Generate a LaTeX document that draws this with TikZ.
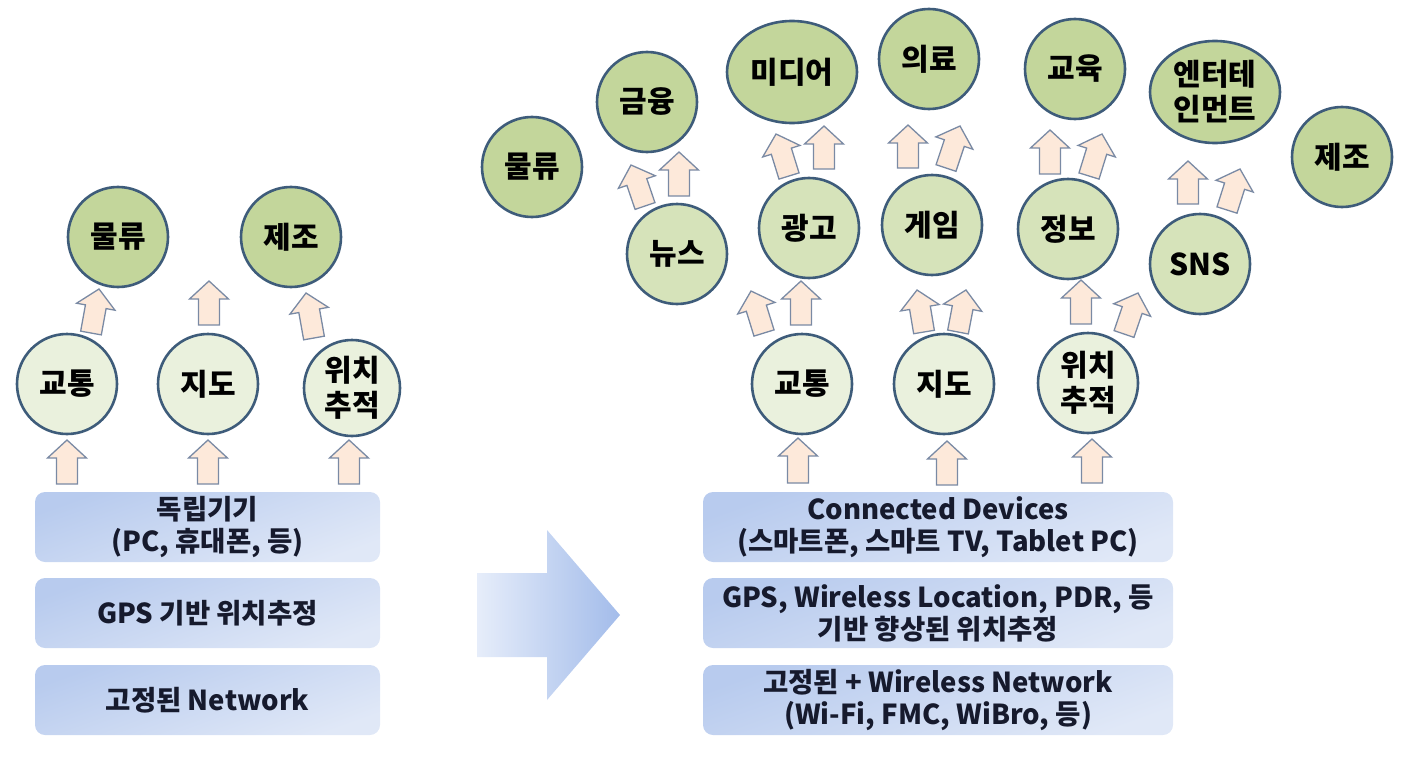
\documentclass[tikz,border=0pt]{standalone}
\usepackage{fontspec}
\setmainfont{Noto Sans CJK KR}
\usetikzlibrary{shapes.geometric,calc}
\definecolor{cline}{RGB}{62,92,122}
\definecolor{topfill}{RGB}{195,214,155}
\definecolor{midfill}{RGB}{214,227,186}
\definecolor{lowfill}{RGB}{234,241,221}
\definecolor{arrfill}{RGB}{253,233,218}
\definecolor{arrline}{RGB}{122,138,164}
\definecolor{boxtop}{RGB}{184,203,238}
\definecolor{boxbot}{RGB}{224,232,247}
\definecolor{bigleft}{RGB}{230,237,250}
\definecolor{bigright}{RGB}{163,188,234}
\definecolor{boxtext}{RGB}{22,26,45}
\tikzset{
  circ/.style={circle,draw=cline,line width=2.6pt,minimum size=100pt,inner sep=0pt,
    align=center,font=\fontsize{30}{35}\selectfont\bfseries},
  ell/.style={ellipse,draw=cline,line width=2.6pt,minimum width=130pt,minimum height=102pt,
    inner sep=0pt,align=center,font=\fontsize{30}{35}\selectfont\bfseries},
  topc/.style={fill=topfill},
  midc/.style={fill=midfill},
  lowc/.style={fill=lowfill},
  layerbox/.style={rectangle,rounded corners=10pt,minimum height=70pt,inner sep=0pt,
    top color=boxtop,bottom color=boxbot,shading angle=20,align=center,text=boxtext,
    font=\fontsize{27.5}{32}\selectfont\bfseries},
  blockarr/.style={draw=arrline,fill=arrfill,line width=1.3pt,line join=miter},
}
\newcommand\barrow[2]{%
  \path[blockarr] let \p1=(#1), \p2=(#2), \n1={atan2(\y2-\y1,\x2-\x1)},
    \n2={veclen(\x2-\x1,\y2-\y1)} in [shift={(\p1)}, rotate=\n1]
    (0pt,-10.5pt) -- (\n2-18pt,-10.5pt) -- (\n2-18pt,-19.5pt) -- (\n2,0pt)
    -- (\n2-18pt,19.5pt) -- (\n2-18pt,10.5pt) -- (0pt,10.5pt) -- cycle;}
\begin{document}
\begin{tikzpicture}[x=1pt,y=-1pt]
\useasboundingbox (0,0) rectangle (1402,757);
% ---------- left side ----------
\node[circ,topc] (lmul) at (118,237) {물류};
\node[circ,topc] (ljej) at (291,237) {제조};
\node[circ,lowc] (lgyo) at (67,384) {교통};
\node[circ,lowc] (ljid) at (208,384) {지도};
\node[circ,lowc,minimum size=96pt] (lwic) at (352,388) {위치\\추적};
\node[layerbox,minimum width=345pt] (lb1) at (207.5,527) {독립기기\\(PC, 휴대폰, 등)};
\node[layerbox,minimum width=345pt] (lb2) at (207.5,613) {GPS 기반 위치추정};
\node[layerbox,minimum width=345pt] (lb3) at (207.5,700) {고정된 Network};
% left arrows
\coordinate (la1s) at (91,333); \coordinate (la1e) at (99,289);
\coordinate (la2s) at (209,325); \coordinate (la2e) at (209,281);
\coordinate (la3s) at (314,338); \coordinate (la3e) at (306,293);
\coordinate (la4s) at (67,484); \coordinate (la4e) at (67,440);
\coordinate (la5s) at (208,484); \coordinate (la5e) at (208,440);
\coordinate (la6s) at (349,484); \coordinate (la6e) at (349,440);
\barrow{la1s}{la1e}\barrow{la2s}{la2e}\barrow{la3s}{la3e}
\barrow{la4s}{la4e}\barrow{la5s}{la5e}\barrow{la6s}{la6e}
% ---------- big arrow ----------
\path[left color=bigleft,right color=bigright]
  (477,573) -- (547,573) -- (547,530) -- (620,615) -- (547,700) -- (547,657) -- (477,657) -- cycle;
% ---------- right side ----------
\node[circ,topc] (rmul) at (532,167) {물류};
\node[circ,topc] (rgeu) at (647,102) {금융};
\node[ell,topc] (rmed) at (792,72) {미디어};
\node[circ,topc] (ruir) at (929,59) {의료};
\node[circ,topc] (rgyu) at (1075,69) {교육};
\node[ell,topc] (rent) at (1215,92) {엔터테\\인먼트};
\node[circ,topc] (rjej) at (1342,157) {제조};
\node[circ,midc] (rnew) at (677,254) {뉴스};
\node[circ,midc] (radv) at (809,228) {광고};
\node[circ,midc] (rgam) at (932,225) {게임};
\node[circ,midc] (rinf) at (1068,229) {정보};
\node[circ,midc] (rsns) at (1200,264) {SNS};
\node[circ,lowc] (rgyo) at (802,384) {교통};
\node[circ,lowc] (rjid) at (944,384) {지도};
\node[circ,lowc] (rwic) at (1088,383) {위치\\추적};
\node[layerbox,minimum width=470pt] (rb1) at (938,527) {Connected Devices\\(스마트폰, 스마트 TV, Tablet PC)};
\node[layerbox,minimum width=470pt] (rb2) at (938,613) {GPS, Wireless Location, PDR, 등\\기반 향상된 위치추정};
\node[layerbox,minimum width=470pt] (rb3) at (938,700) {고정된 + Wireless Network\\(Wi-Fi, FMC, WiBro, 등)};
% right arrows: bottom row
\coordinate (ra1s) at (798,483); \coordinate (ra1e) at (798,438);
\coordinate (ra2s) at (947,485); \coordinate (ra2e) at (947,441);
\coordinate (ra3s) at (1092,483); \coordinate (ra3e) at (1092,439);
% from bottom circles
\coordinate (ra4s) at (764,333); \coordinate (ra4e) at (751,291);
\coordinate (ra5s) at (801,325); \coordinate (ra5e) at (801,281);
\coordinate (ra6s) at (924,332); \coordinate (ra6e) at (917,290);
\coordinate (ra7s) at (958,332); \coordinate (ra7e) at (966,290);
\coordinate (ra8s) at (1081,324); \coordinate (ra8e) at (1081,280);
\coordinate (ra9s) at (1124,334); \coordinate (ra9e) at (1138,293);
% from middle circles
\coordinate (rb1s) at (645,206); \coordinate (rb1e) at (631,165);
\coordinate (rb2s) at (679,196); \coordinate (rb2e) at (679,152);
\coordinate (rb3s) at (789,176); \coordinate (rb3e) at (776,134);
\coordinate (rb4s) at (824,169); \coordinate (rb4e) at (824,126);
\coordinate (rb5s) at (908,168); \coordinate (rb5e) at (908,125);
\coordinate (rb6s) at (946,168); \coordinate (rb6e) at (960,126);
\coordinate (rb7s) at (1050,174); \coordinate (rb7e) at (1050,130);
\coordinate (rb8s) at (1089,176); \coordinate (rb8e) at (1102,134);
\coordinate (rb9s) at (1188,204); \coordinate (rb9e) at (1188,161);
\coordinate (rbas) at (1227,210); \coordinate (rbae) at (1240,169);
\barrow{ra1s}{ra1e}\barrow{ra2s}{ra2e}\barrow{ra3s}{ra3e}
\barrow{ra4s}{ra4e}\barrow{ra5s}{ra5e}\barrow{ra6s}{ra6e}
\barrow{ra7s}{ra7e}\barrow{ra8s}{ra8e}\barrow{ra9s}{ra9e}
\barrow{rb1s}{rb1e}\barrow{rb2s}{rb2e}\barrow{rb3s}{rb3e}
\barrow{rb4s}{rb4e}\barrow{rb5s}{rb5e}\barrow{rb6s}{rb6e}
\barrow{rb7s}{rb7e}\barrow{rb8s}{rb8e}\barrow{rb9s}{rb9e}
\barrow{rbas}{rbae}
\end{tikzpicture}
\end{document}
